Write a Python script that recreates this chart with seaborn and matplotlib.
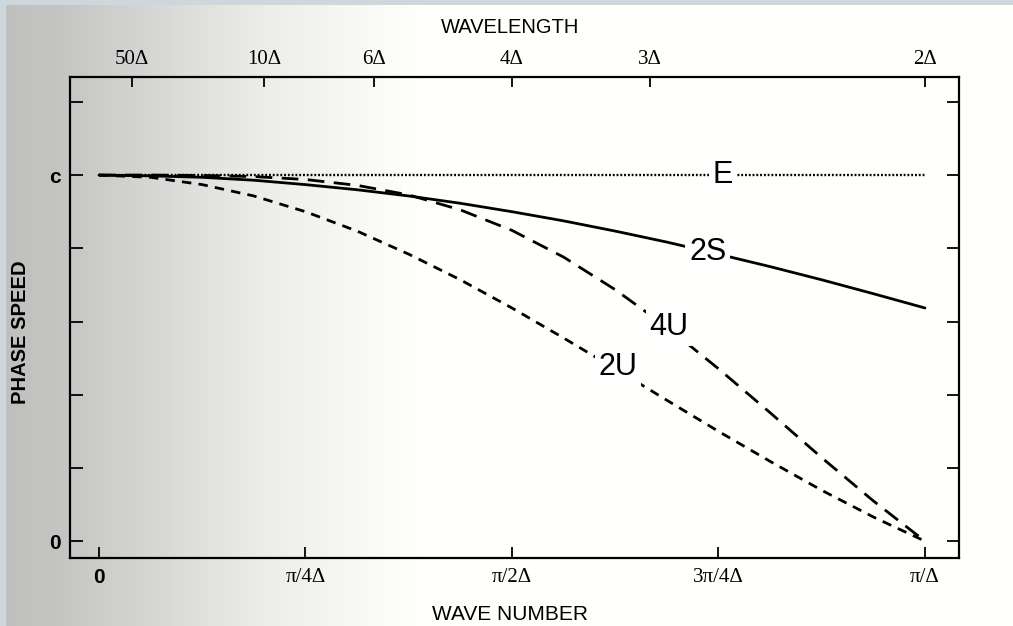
import numpy as np
import pandas as pd
import matplotlib
matplotlib.use("Agg")
import matplotlib.pyplot as plt
import seaborn as sns

# ---------------- data ----------------
# wave number in units of pi/Delta
k_frac = [0.0, 0.0625, 0.125, 0.1875, 0.25, 0.3125, 0.375, 0.4375, 0.5,
          0.5625, 0.625, 0.6875, 0.75, 0.8125, 0.875, 0.9375, 1.0]
# phase speed in units of c
speed_2S = [1.000, 0.998, 0.994, 0.986, 0.974, 0.960, 0.943, 0.923, 0.900,
            0.875, 0.847, 0.817, 0.784, 0.750, 0.714, 0.676, 0.637]
speed_4U = [1.000, 1.000, 0.999, 0.996, 0.988, 0.972, 0.946, 0.905, 0.849,
            0.776, 0.687, 0.585, 0.471, 0.351, 0.228, 0.110, 0.000]
speed_2U = [1.000, 0.994, 0.974, 0.943, 0.900, 0.847, 0.784, 0.714, 0.637,
            0.555, 0.471, 0.385, 0.300, 0.218, 0.139, 0.066, 0.000]
exact_k = [0.0, 1.0]
exact_speed = [1.0, 1.0]

wn_ticks = [0.0, 0.25, 0.5, 0.75, 1.0]
wn_labels = ["0", "π/4Δ", "π/2Δ", "3π/4Δ", "π/Δ"]
wavelengths = [50, 10, 6, 4, 3, 2]
wl_labels = ["50Δ", "10Δ", "6Δ", "4Δ", "3Δ", "2Δ"]
ps_ticks = [0.0, 0.2, 0.4, 0.6, 0.8, 1.0, 1.2]
ps_labels = ["0", "", "", "", "", "c", ""]

curve_names = ["E", "2S", "4U", "2U"]

# ---------------- style ----------------
sns.set_style("ticks")
plt.rcParams["font.family"] = ["Liberation Sans", "DejaVu Sans"]
for key in ["text.color", "axes.labelcolor", "xtick.color", "ytick.color",
            "axes.edgecolor"]:
    plt.rcParams[key] = "black"

W, H = 1013, 626
fig = plt.figure(figsize=(W / 100, H / 100), dpi=100)

# scanned-paper background
bg = fig.add_axes([0, 0, 1, 1], zorder=-5)
xs = np.linspace(0, W, 400)
g = np.interp(xs, [0, 60, 150, 250, 350, 420, W],
              [0.75, 0.77, 0.84, 0.92, 0.97, 1.0, 1.0])
img = np.dstack([g, g, g * 0.99])[0][None, :, :]
img = np.repeat(img, 10, axis=0)
bg.imshow(img, extent=[0, W, 0, H], aspect="auto")
bg.add_patch(plt.Rectangle((0, H - 5), W, 5, color="#cdd7dd", lw=0))
bg.add_patch(plt.Rectangle((0, 0), 6, H, color="#cdd7dd", lw=0))
bg.set_xlim(0, W)
bg.set_ylim(0, H)
bg.axis("off")

ax = fig.add_axes([70 / W, (H - 558) / H, 889 / W, 481 / H])
ax.set_zorder(1)
ax.patch.set_visible(False)

df = pd.DataFrame({"k": k_frac, "2S": speed_2S, "4U": speed_4U, "2U": speed_2U})

sns.lineplot(x=exact_k, y=exact_speed, ax=ax, color="black", linewidth=1.7,
             linestyle=(0, (0.8, 0.8)))
sns.lineplot(data=df, x="k", y="2S", ax=ax, color="black", linewidth=2.0)
sns.lineplot(data=df, x="k", y="4U", ax=ax, color="black", linewidth=2.0,
             linestyle=(0, (6.0, 3.4)))
sns.lineplot(data=df, x="k", y="2U", ax=ax, color="black", linewidth=2.0,
             linestyle=(0, (3.4, 2.6)))

label_pos = {"E": (0.755, 1.0), "2S": (0.737, 0.79), "4U": (0.690, 0.585),
             "2U": (0.628, 0.475)}
for name in curve_names:
    x, y = label_pos[name]
    ax.text(x, y, name, fontsize=22, ha="center", va="center", zorder=5,
            bbox=dict(boxstyle="square,pad=0.12", fc="white", ec="none"))

ax.set_xlim(-0.0351, 1.0412)
ax.set_ylim(-0.046, 1.268)

ax.set_xticks(wn_ticks)
ax.set_xticklabels(wn_labels)
ax.set_yticks(ps_ticks)
ax.set_yticklabels(ps_labels)
for i, lbl in enumerate(ax.get_xticklabels()):
    if i == 0:
        lbl.set_fontfamily("Liberation Sans")
        lbl.set_fontweight("bold")
        lbl.set_fontsize(15)
    else:
        lbl.set_fontfamily("Liberation Serif")
        lbl.set_fontsize(15)
for lbl in ax.get_yticklabels():
    lbl.set_fontweight("bold")
    lbl.set_fontsize(15)

ax.tick_params(axis="x", direction="in", length=8, width=1.3, pad=7,
               bottom=True, top=False)
ax.tick_params(axis="y", direction="in", length=9, width=1.3, pad=7,
               left=True, right=True, labelright=False)

for s in ax.spines.values():
    s.set_visible(True)
    s.set_linewidth(1.6)
    s.set_color("black")

ax.set_xlabel("WAVE NUMBER", fontsize=15)
ax.xaxis.set_label_coords(0.495, -0.098)
ax.set_ylabel("PHASE SPEED", fontsize=14.5, fontweight="bold")
ax.yaxis.set_label_coords(-0.045, 0.47)

# top wavelength axis
ax2 = ax.twiny()
ax2.patch.set_visible(False)
ax2.set_xlim(ax.get_xlim())
ax2.set_xticks([2.0 / L for L in wavelengths])
ax2.set_xticklabels(wl_labels, fontfamily="Liberation Serif", fontsize=15)
ax2.tick_params(axis="x", direction="in", length=7, width=1.3, pad=6,
                top=True, labeltop=True)
for s in ax2.spines.values():
    s.set_visible(False)
ax2.set_xlabel("WAVELENGTH", fontsize=14.5)
ax2.xaxis.set_label_coords(0.495, 1.092)

fig.savefig("out.png", dpi=100)
